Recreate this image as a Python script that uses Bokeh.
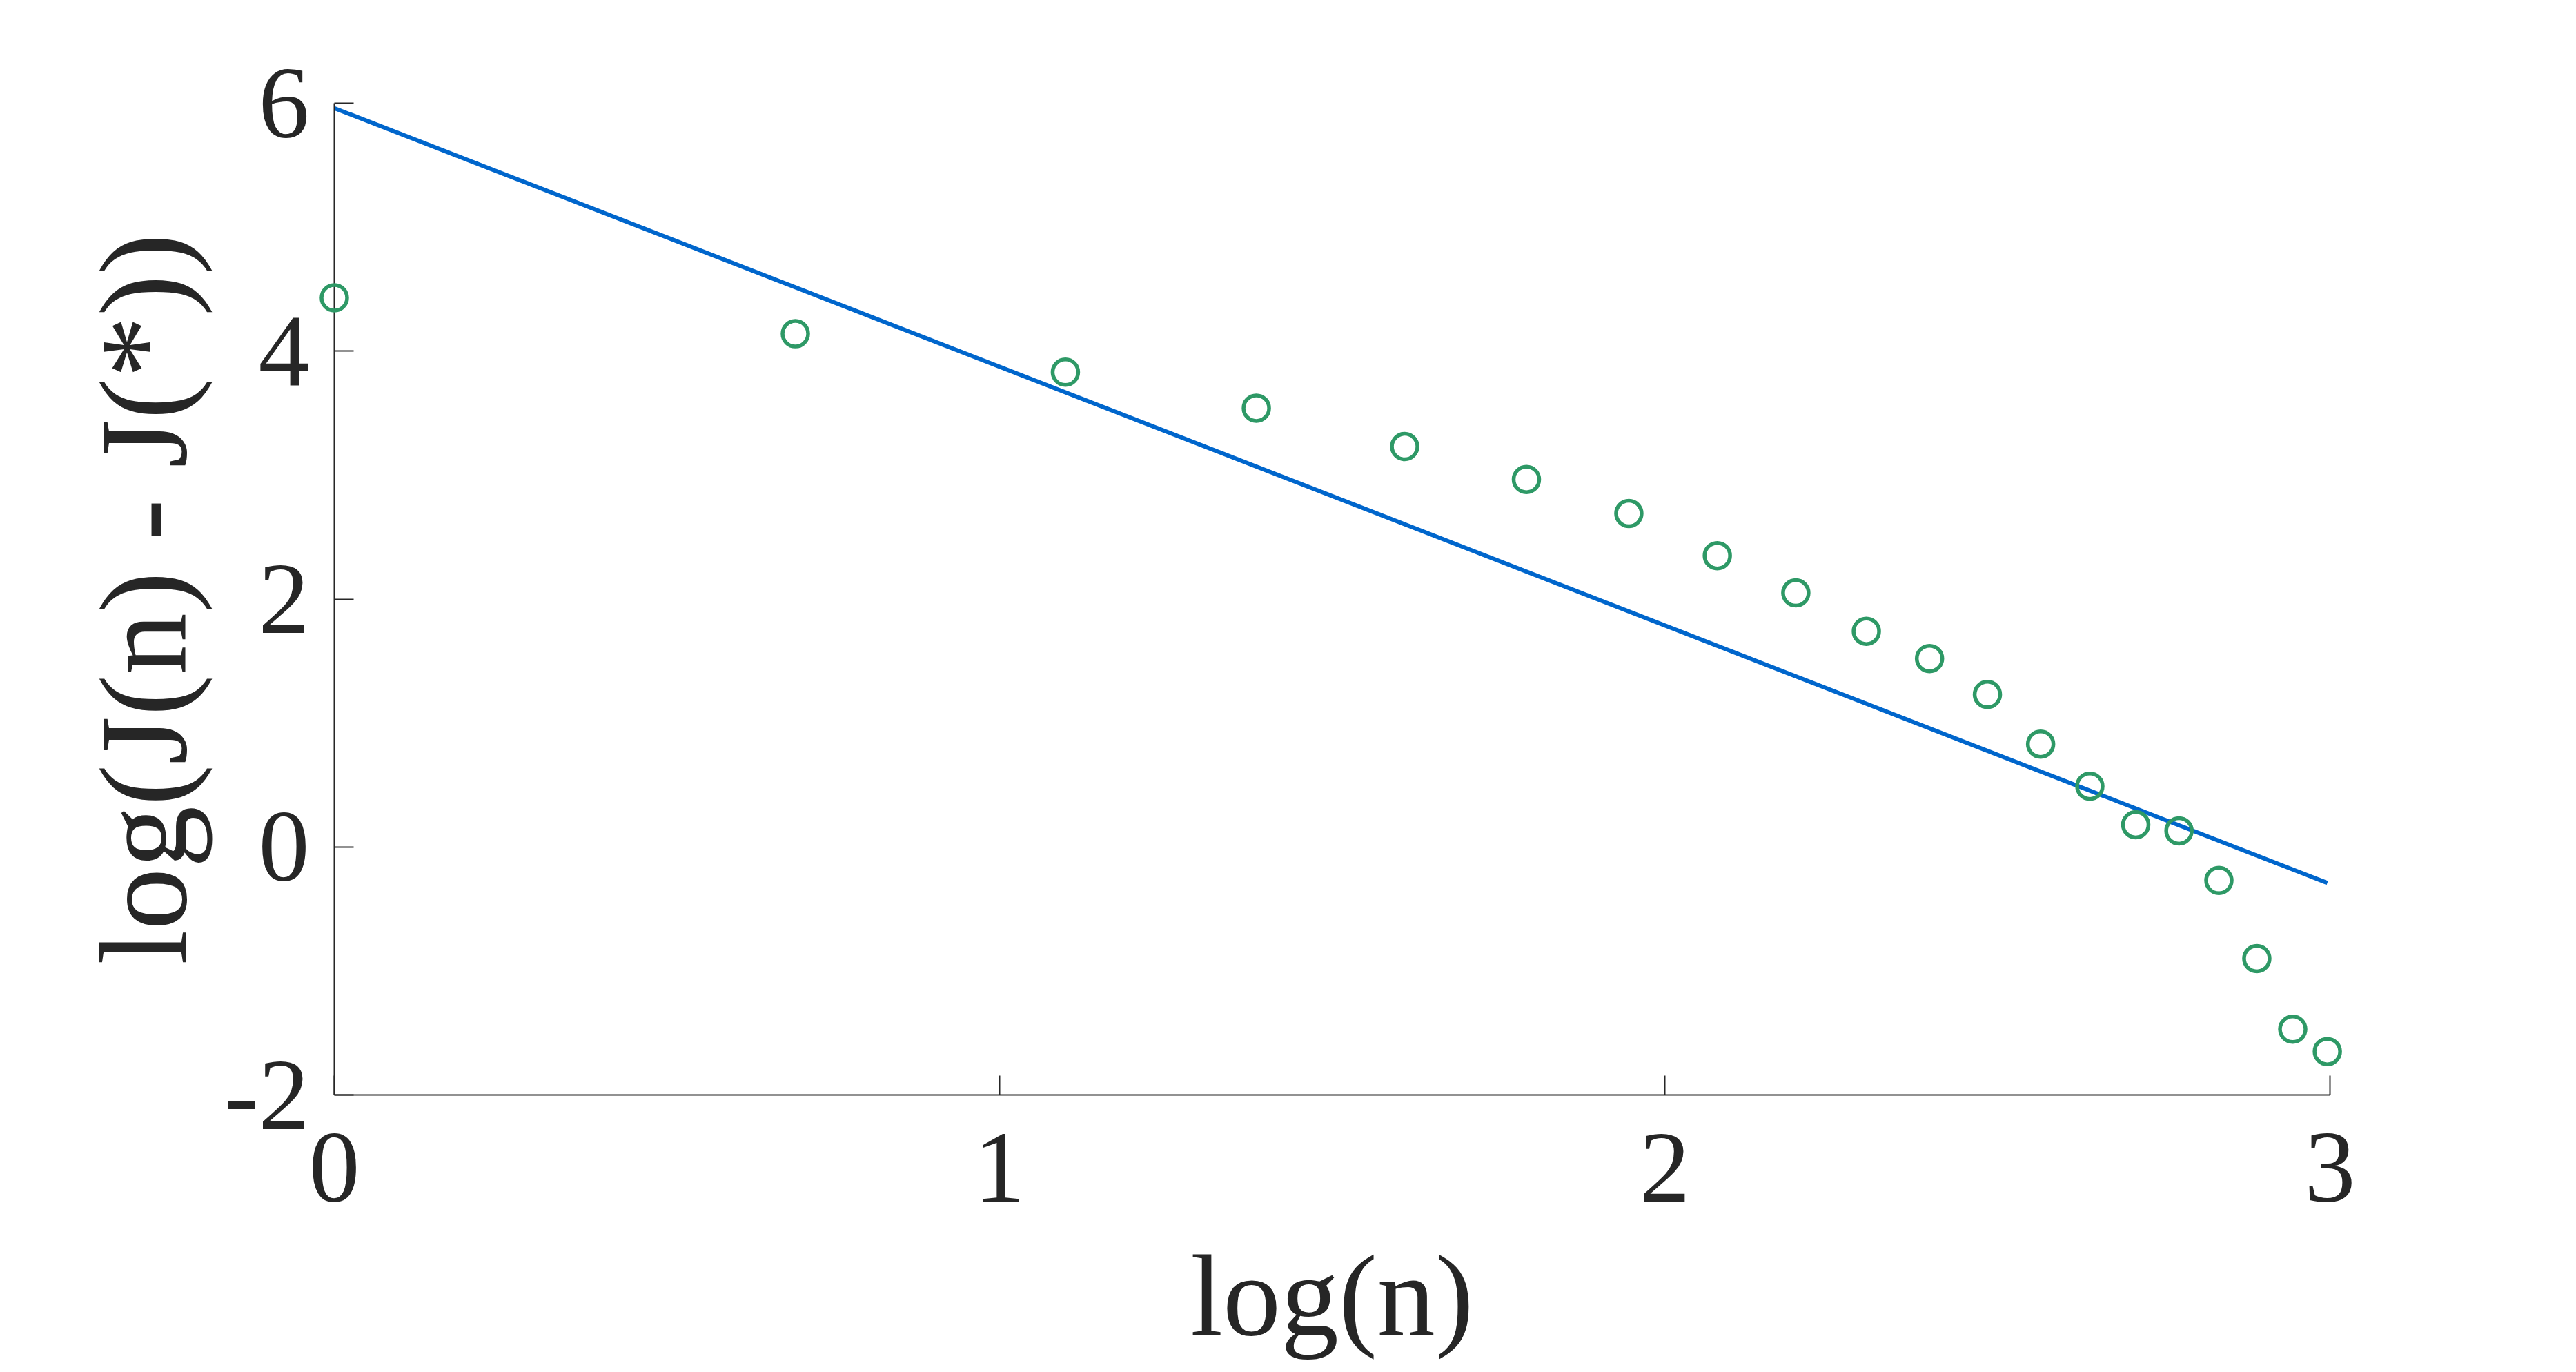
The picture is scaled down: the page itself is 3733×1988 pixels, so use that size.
from bokeh.plotting import figure
from bokeh.models import FixedTicker, Range1d
from bokeh.embed import file_html
from bokeh.resources import INLINE

# data
log_n = [0.000, 0.693, 1.099, 1.386, 1.609, 1.792, 1.946, 2.079, 2.197, 2.303,
         2.398, 2.485, 2.565, 2.639, 2.708, 2.773, 2.833, 2.890, 2.944, 2.996]
log_err = [4.43, 4.14, 3.83, 3.54, 3.23, 2.965, 2.69, 2.35, 2.05, 1.74,
           1.52, 1.23, 0.83, 0.49, 0.18, 0.13, -0.27, -0.90, -1.47, -1.65]
fit_x = [0.0, 2.996]
fit_y = [5.96, -0.29]

x_ticks = [0, 1, 2, 3]
y_ticks = [-2, 0, 2, 4, 6]
y_tick_labels = {-2: "-2", 0: "0", 2: "2", 4: "4", 6: "6"}
x_title = "log(n)"
y_title = "log(J(n) - J(*))"

FONT = "Liberation Serif"
TXT = "#262626"

p = figure(width=3717, height=1972, output_backend="svg", toolbar_location=None,
           x_range=Range1d(0, 3), y_range=Range1d(-2, 6),
           min_border_left=484, min_border_right=341,
           min_border_top=149, min_border_bottom=386)

p.outline_line_color = None
p.grid.visible = False
p.background_fill_color = "white"
p.border_fill_color = "white"

p.line(fit_x, fit_y, line_color="#0066CC", line_width=6)
r = p.scatter(log_n, log_err, marker="circle", size=37, line_width=5.5,
              line_color="#2E9966", fill_color=None)
r.level = "overlay"

for ax in (p.xaxis[0], p.yaxis[0]):
    ax.axis_line_color = TXT
    ax.axis_line_width = 2
    ax.major_tick_line_color = TXT
    ax.major_tick_line_width = 2
    ax.major_tick_in = 28
    ax.major_tick_out = 0
    ax.minor_tick_line_color = None
    ax.major_label_text_font = FONT
    ax.major_label_text_color = TXT
    ax.major_label_text_font_size = "148px"
    ax.axis_label_text_font = FONT
    ax.axis_label_text_color = TXT
    ax.axis_label_text_font_style = "normal"

p.xaxis.ticker = FixedTicker(ticks=x_ticks)
p.yaxis.ticker = FixedTicker(ticks=y_ticks)
p.yaxis.major_label_overrides = y_tick_labels
p.xaxis.major_label_standoff = 56
p.yaxis.major_label_standoff = 36
p.xaxis.axis_label = x_title
p.xaxis.axis_label_text_font_size = "168px"
p.xaxis.axis_label_standoff = 40
p.yaxis.axis_label = y_title
p.yaxis.axis_label_text_font_size = "180px"
p.yaxis.axis_label_standoff = 14

open("out.html", "w").write(file_html(p, INLINE))
